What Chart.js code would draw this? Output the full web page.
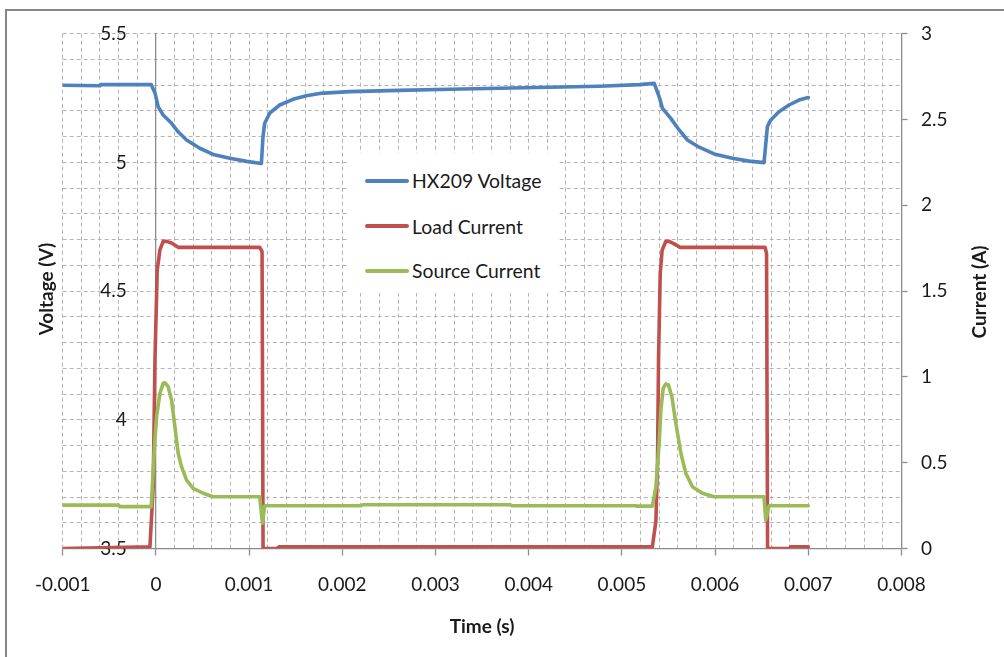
<!DOCTYPE html>
<html>
<head>
<meta charset="utf-8">
<script src="https://cdn.jsdelivr.net/npm/chart.js@4.4.1/dist/chart.umd.min.js"></script>
<style>
html,body{margin:0;padding:0;background:#fff;overflow:hidden;width:1004px;height:657px;}
#frame{position:absolute;left:5px;top:9px;width:1100px;height:800px;border:2px solid #878787;}
#wrap{position:absolute;left:0;top:0;width:1004px;height:657px;}
#legend{position:absolute;left:347px;top:153px;width:210px;height:140px;background:#fff;font-family:Lato,"Open Sans",sans-serif;font-size:19.4px;color:#1a1a1a;}
.item{position:absolute;left:18px;height:24px;display:flex;align-items:center;white-space:nowrap;}
.swatch{display:inline-block;width:44px;height:4px;border-radius:2px;margin-right:3px;}
</style>
</head>
<body>
<div id="frame"></div>
<div id="wrap"><canvas id="c" width="1004" height="657"></canvas></div>
<div id="legend"></div>
<script>
// ---- data (time in s) ----
const voltageTime = [-0.001,-0.0006,-0.00059,-0.00005,-0.00001,0.000025,0.000078,0.000168,0.000239,0.000329,0.000471,0.000614,0.000793,0.000972,0.001132,0.001149,0.001167,0.001221,0.001328,0.001471,0.001614,0.001757,0.00208,0.00261,0.00315,0.00369,0.00422,0.00476,0.00519,0.005347,0.0054,0.005435,0.005525,0.005614,0.005703,0.005829,0.005989,0.006186,0.006364,0.006525,0.006561,0.006597,0.006686,0.006793,0.0069,0.007];
const voltageValues = [5.300,5.298,5.302,5.302,5.270,5.216,5.184,5.152,5.119,5.087,5.055,5.031,5.016,5.004,4.996,5.100,5.152,5.191,5.223,5.245,5.259,5.268,5.275,5.280,5.284,5.288,5.292,5.296,5.302,5.307,5.255,5.210,5.171,5.126,5.087,5.059,5.033,5.016,5.005,4.999,5.139,5.165,5.197,5.223,5.242,5.252];

const loadTime = [-0.001,-0.000064,-0.000029,-0.00001,0.000014,0.000043,0.000078,0.000114,0.000168,0.000239,0.001114,0.001139,0.00115,0.0013,0.00132,0.005327,0.005365,0.005382,0.005393,0.005411,0.005432,0.005472,0.005507,0.005561,0.005625,0.006536,0.006552,0.006563,0.0068,0.00681,0.007];
const loadValues = [0.0,0.01,0.36,1.10,1.62,1.74,1.79,1.79,1.78,1.755,1.755,1.73,0.0,0.0,0.01,0.01,0.16,0.5,1.10,1.6,1.74,1.79,1.79,1.775,1.755,1.755,1.72,0.0,0.0,0.01,0.01];

const sourceTime = [-0.001,-0.0004,-0.00039,-0.00005,-0.000029,-0.000011,0.0000075,0.000043,0.000078,0.000096,0.000132,0.000168,0.000204,0.000239,0.000275,0.000329,0.0004,0.000507,0.000614,0.001114,0.001143,0.001168,0.0022,0.00222,0.0038,0.00382,0.00515,0.00516,0.005327,0.005365,0.0054,0.005418,0.005443,0.005472,0.0055,0.005536,0.005579,0.005633,0.005686,0.005757,0.005864,0.005989,0.006525,0.006543,0.006579,0.007];
const sourceValues = [0.253,0.253,0.244,0.244,0.457,0.632,0.768,0.904,0.963,0.966,0.943,0.865,0.71,0.555,0.477,0.399,0.351,0.322,0.302,0.302,0.147,0.249,0.249,0.255,0.255,0.249,0.249,0.247,0.247,0.36,0.613,0.807,0.934,0.959,0.953,0.885,0.73,0.555,0.438,0.36,0.322,0.302,0.302,0.166,0.249,0.249];

const seriesNames = ['HX209 Voltage','Load Current','Source Current'];
const seriesColors = ['#4F81BD','#C0504D','#9BBB59'];

const xTickLabels = ['-0.001','0','0.001','0.002','0.003','0.004','0.005','0.006','0.007','0.008'];
const leftTickLabels = ['3.5','4','4.5','5','5.5'];
const rightTickLabels = ['0','0.5','1','1.5','2','2.5','3'];
const xTitle = 'Time (s)';
const leftTitle = 'Voltage (V)';
const rightTitle = 'Current (A)';

// ---- helpers ----
const zip = (xs, ys) => xs.map((x, i) => ({x: x, y: ys[i]}));
const FONT = 'Lato, "Open Sans", sans-serif';
const GRID = '#b4b4b4';
const AXIS = '#8c8c8c';
const TXT = '#1a1a1a';
const CH = {left: 62.7, right: 901.5, top: 33.7, bottom: 548.5};
const LEFT_LABEL_GAP = '      ';

const xMin = -0.001, xMax = 0.008, xMinorCount = 45;
const yMin = 3.5, yMax = 5.5, yMinorCount = 20;

const titlesPlugin = {
  id: 'vtitles',
  afterDraw(chart) {
    const ctx = chart.ctx;
    [[leftTitle, 47, 289], [rightTitle, 980, 292]].forEach(([t, x, y]) => {
      ctx.save();
      ctx.fillStyle = TXT;
      ctx.font = 'bold 19px ' + FONT;
      ctx.textAlign = 'center';
      ctx.textBaseline = 'middle';
      ctx.translate(x, y);
      ctx.rotate(-Math.PI / 2);
      ctx.fillText(t, 0, 0);
      ctx.restore();
    });
  }
};

const chart = new Chart(document.getElementById('c'), {
  type: 'line',
  data: {
    datasets: [
      {label: seriesNames[0], data: zip(voltageTime, voltageValues), borderColor: seriesColors[0], backgroundColor: seriesColors[0], yAxisID: 'y', order: 2},
      {label: seriesNames[1], data: zip(loadTime, loadValues), borderColor: seriesColors[1], backgroundColor: seriesColors[1], yAxisID: 'y2', order: 1},
      {label: seriesNames[2], data: zip(sourceTime, sourceValues), borderColor: seriesColors[2], backgroundColor: seriesColors[2], yAxisID: 'y2', order: 0}
    ]
  },
  options: {
    responsive: false,
    animation: false,
    devicePixelRatio: 1,
    layout: {padding: {left: CH.left, top: CH.top, right: 0, bottom: 0}},
    elements: {
      line: {borderWidth: 3.6, tension: 0, borderCapStyle: 'round', borderJoinStyle: 'round', fill: false},
      point: {radius: 0, hoverRadius: 0}
    },
    plugins: {legend: {display: false}, tooltip: {enabled: false}},
    scales: {
      x: {
        type: 'linear', position: 'bottom', min: xMin, max: xMax,
        afterFit: s => { s.height = 657 - CH.bottom; },
        afterBuildTicks: s => {
          const t = [];
          for (let i = 0; i <= xMinorCount; i++) t.push({value: xMin + i * (xMax - xMin) / xMinorCount});
          s.ticks = t;
        },
        ticks: {
          autoSkip: false, maxRotation: 0, padding: 18, color: TXT,
          font: {family: FONT, size: 19},
          callback: (v, i) => (i % 5 === 0 ? xTickLabels[i / 5] : '')
        },
        grid: {
          color: GRID, lineWidth: 1, drawTicks: true, tickLength: 7,
          tickColor: c => (c.index % 5 === 0 ? AXIS : 'rgba(0,0,0,0)'),
          tickBorderDash: [], tickWidth: 1.3
        },
        border: {display: true, color: AXIS, width: 1.3, dash: [4, 3]},
        title: {display: true, text: xTitle, color: TXT, font: {family: FONT, size: 19, weight: 'bold'}, padding: {top: 0, bottom: 19}}
      },
      y: {
        type: 'linear', position: {x: 0}, min: yMin, max: yMax,
        afterBuildTicks: s => {
          const t = [];
          for (let i = 0; i <= yMinorCount; i++) t.push({value: yMin + i * (yMax - yMin) / yMinorCount});
          s.ticks = t;
        },
        ticks: {
          autoSkip: false, padding: 21, color: TXT,
          font: {family: FONT, size: 19},
          callback: (v, i) => (i % 5 === 0 ? leftTickLabels[i / 5] + LEFT_LABEL_GAP : '')
        },
        grid: {color: GRID, lineWidth: 1, drawTicks: false, tickLength: 0},
        border: {display: true, color: AXIS, width: 1.3, dash: [4, 3]}
      },
      y2: {
        type: 'linear', position: 'right', min: 0, max: 3,
        afterFit: s => { s.width = 1004 - CH.right; },
        afterBuildTicks: s => {
          s.ticks = rightTickLabels.map((l, i) => ({value: i * 0.5}));
        },
        ticks: {
          autoSkip: false, padding: 13.5, color: TXT,
          font: {family: FONT, size: 19},
          callback: (v, i) => rightTickLabels[i]
        },
        grid: {drawOnChartArea: false, drawTicks: true, tickLength: 6, tickColor: AXIS, tickWidth: 1.3, tickBorderDash: []},
        border: {display: true, color: AXIS, width: 1.3}
      }
    }
  },
  plugins: [titlesPlugin]
});

// ---- legend (real text, built from the datasets) ----
const legend = document.getElementById('legend');
const rowTops = [15.7, 61, 105.7];
chart.data.datasets.forEach((ds, i) => {
  const row = document.createElement('div');
  row.className = 'item';
  row.style.top = rowTops[i] + 'px';
  const sw = document.createElement('span');
  sw.className = 'swatch';
  sw.style.background = ds.borderColor;
  const tx = document.createElement('span');
  tx.textContent = ds.label;
  row.appendChild(sw);
  row.appendChild(tx);
  legend.appendChild(row);
});
</script>
</body>
</html>
